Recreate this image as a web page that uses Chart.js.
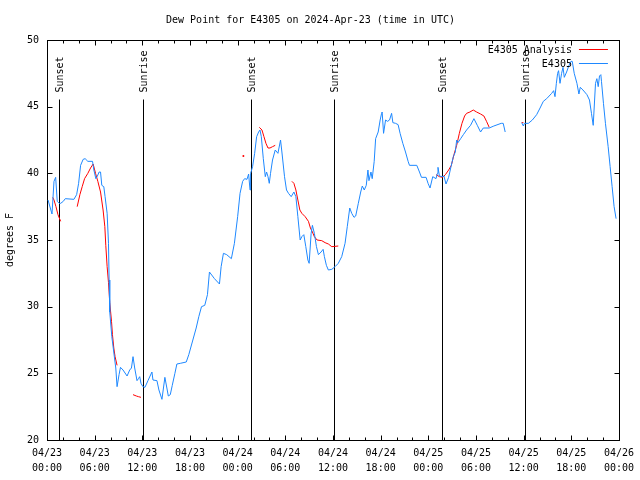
<!DOCTYPE html>
<html>
<head>
<meta charset="utf-8">
<script src="https://cdn.jsdelivr.net/npm/chart.js@4/dist/chart.umd.min.js"></script>
<style>
  html, body { margin: 0; padding: 0; background: #fff; }
</style>
</head>
<body>
<canvas id="dew" width="640" height="480"></canvas>
<script>
// hours since 04/23 00:00 UTC
const dewHours = [
  0.13, 0.63, 0.88, 1.09, 1.29, 1.54, 1.72, 2.05, 2.30, 3.39,
  3.73, 3.98, 4.23, 4.55, 4.80, 5.14, 5.73, 5.90, 6.15, 6.31,
  6.56, 6.74, 6.90, 7.15, 7.31, 7.57, 7.74, 7.82, 7.90, 8.16,
  8.53, 8.66, 8.82, 9.07, 9.25, 9.57, 10.08, 10.41, 10.63, 10.83,
  11.04, 11.33, 11.51, 11.67, 11.83, 12.08, 12.33, 12.71, 13.21, 13.34,
  13.84, 14.09, 14.47, 14.84, 15.09, 15.27, 15.52, 15.77, 16.10, 16.35,
  16.78, 17.53, 17.85, 18.36, 18.78, 19.11, 19.45, 19.86, 20.20, 20.45,
  21.08, 21.71, 21.92, 22.21, 22.62, 23.21, 23.59, 24.00, 24.30, 24.63,
  24.88, 25.18, 25.38, 25.56, 25.63, 25.88, 26.14, 26.39, 26.64, 26.81,
  26.98, 27.23, 27.48, 27.64, 27.82, 27.98, 28.14, 28.39, 28.73, 29.07,
  29.40, 29.57, 29.90, 30.15, 30.40, 30.74, 31.08, 31.33, 31.58, 31.87,
  32.08, 32.33, 32.58, 32.84, 33.00, 33.25, 33.41, 33.66, 33.92, 34.17,
  34.50, 34.76, 34.92, 35.17, 35.42, 35.85, 36.26, 36.67, 37.10, 37.52,
  37.80, 38.11, 38.36, 38.65, 38.86, 39.19, 39.49, 39.69, 39.94, 40.19,
  40.40, 40.53, 40.78, 40.94, 41.19, 41.37, 41.69, 41.94, 42.12, 42.19,
  42.37, 42.62, 42.87, 43.12, 43.38, 43.54, 43.88, 44.20, 44.45, 44.79,
  45.13, 45.46, 45.63, 46.55, 46.89, 47.14, 47.72, 47.97, 48.22, 48.56,
  48.97, 49.15, 49.22, 49.40, 49.72, 49.97, 50.23, 50.56, 50.82, 51.15,
  51.40, 51.57, 51.73, 52.07, 52.41, 52.82, 53.32, 53.74, 54.17, 54.58,
  54.92, 55.67, 56.25, 57.18, 57.43, 57.68, 58.70, 59.76, 59.97, 60.10,
  60.60, 61.10, 61.64, 62.07, 62.48, 62.90, 63.53, 63.78, 63.95, 64.12,
  64.28, 64.40, 64.58, 64.78, 64.96, 65.12, 65.41, 65.71, 65.96, 66.12,
  66.37, 66.71, 66.96, 67.13, 67.47, 67.97, 68.29, 68.54, 68.76, 68.88,
  69.05, 69.22, 69.39, 69.55, 69.72, 69.80, 70.05, 70.30, 70.64, 70.89,
  71.14, 71.39, 71.64
];
const dewValues = [
  38.0, 36.95, 39.4, 39.7, 37.9, 37.75, 37.75, 37.9, 38.1, 38.05,
  38.4, 39.25, 40.6, 41.05, 41.1, 40.9, 40.9, 40.25, 39.6, 39.75,
  40.1, 40.1, 39.1, 39.0, 38.25, 37.0, 34.75, 32.0, 29.6, 27.75,
  26.0, 25.4, 24.0, 24.9, 25.45, 25.25, 24.8, 25.25, 25.4, 26.25,
  25.4, 24.45, 24.6, 24.75, 24.25, 24.0, 23.95, 24.45, 25.1, 24.5,
  24.45, 23.75, 23.05, 24.7, 23.9, 23.3, 23.4, 24.1, 25.0, 25.7,
  25.75, 25.85, 26.4, 27.5, 28.4, 29.25, 30.0, 30.1, 30.9, 32.6,
  32.1, 31.7, 33.0, 34.0, 33.9, 33.6, 34.75, 36.75, 38.5, 39.4,
  39.6, 39.55, 39.95, 38.75, 40.0, 40.5, 41.5, 42.75, 43.1, 43.25,
  42.75, 41.1, 39.75, 40.1, 39.75, 39.25, 40.0, 41.0, 41.75, 41.5,
  42.5, 41.6, 39.75, 38.75, 38.5, 38.25, 38.6, 38.25, 36.75, 35.0,
  35.25, 35.4, 34.5, 33.5, 33.25, 35.5, 36.1, 35.5, 34.5, 33.9,
  34.1, 34.3, 33.75, 33.1, 32.75, 32.8, 33.0, 33.25, 33.75, 34.75,
  36.0, 37.4, 37.0, 36.7, 36.8, 37.75, 38.6, 39.05, 38.75, 39.1,
  40.25, 39.45, 40.1, 39.6, 40.9, 42.6, 43.1, 44.0, 44.5, 44.6,
  43.0, 44.0, 43.9, 44.0, 44.5, 43.8, 43.75, 43.65, 43.0, 42.25,
  41.6, 40.9, 40.6, 40.6, 40.1, 39.7, 39.7, 39.25, 38.9, 39.75,
  39.6, 40.0, 40.45, 39.8, 39.75, 39.8, 39.2, 39.7, 40.4, 41.25,
  41.6, 42.5, 42.3, 42.6, 42.9, 43.25, 43.6, 44.1, 43.6, 43.1,
  43.4, 43.4, 43.55, 43.75, 43.75, 43.1, null, 43.8, 43.55, 43.75,
  43.75, 44.0, 44.4, 44.9, 45.4, 45.6, 46.0, 46.2, 45.75, 46.75,
  47.5, 47.7, 46.75, 47.5, 47.95, 47.2, 47.6, 48.1, 48.4, 48.4,
  47.5, 46.75, 45.95, 46.45, 46.25, 45.9, 45.5, 44.5, 43.6, 44.9,
  46.75, 47.1, 46.5, 47.3, 47.4, 46.9, 45.25, 43.75, 42.0, 40.5,
  39.0, 37.5, 36.6
];

// analysis series, one line per segment (null breaks the line)
const anaHours = [
  0.72, 0.88, 1.13, 1.38, 1.72, 2.50,
  3.80, 4.14, 4.43, 4.73, 5.14, 5.48, 5.81, 6.11, 6.40, 6.74, 7.06, 7.28, 7.40, 7.57, 7.74, 7.90, 8.12, 8.24, 8.41, 8.57, 8.82, 9.50,
  10.83, 11.25, 11.51, 11.83, 18.00,
  24.72, 25.50,
  26.73, 27.06, 27.31, 27.56, 27.82, 28.07, 28.39, 28.73, 29.50,
  30.83, 31.08, 31.33, 31.58, 31.83, 32.08, 32.50, 32.91, 33.16, 33.41, 33.66, 34.00, 34.59, 35.01, 35.42, 35.85, 36.67, 42.00,
  48.97, 49.40, 49.81, 50.15, 50.56, 50.90, 51.23, 51.57, 51.91, 52.24, 52.57, 52.82, 53.24, 53.66, 54.08, 54.58, 55.00, 55.33, 55.67, 57.00,
  59.76, 59.97
];
const anaValues = [
  38.2, 38.0, 37.5, 36.9, 36.4, null,
  37.5, 38.4, 39.0, 39.6, 40.0, 40.4, 40.7, 40.0, 39.4, 38.6, 37.25, 36.0, 34.6, 33.0, 31.8, 30.3, 28.9, 27.9, 26.9, 26.25, 25.6, null,
  23.4, 23.3, 23.25, 23.2, null,
  41.3, null,
  43.45, 43.25, 42.75, 42.25, 41.9, 41.9, 42.0, 42.1, null,
  39.4, 39.25, 38.75, 38.0, 37.25, 37.0, 36.75, 36.4, 35.9, 35.6, 35.25, 35.0, 34.95, 34.8, 34.7, 34.5, 34.55, null,
  39.9, 39.75, 39.7, 39.9, 40.25, 40.6, 41.4, 42.1, 43.0, 43.75, 44.3, 44.5, 44.6, 44.75, 44.6, 44.45, 44.3, 43.9, 43.45, null,
  43.8, 43.8
];

const sunHours = [1.55, 12.08, 25.65, 36.13, 49.72, 60.12];
const sunLabels = ['Sunset', 'Sunrise', 'Sunset', 'Sunrise', 'Sunset', 'Sunrise'];

const tickDates = ['04/23', '04/23', '04/23', '04/23', '04/24', '04/24', '04/24', '04/24', '04/25', '04/25', '04/25', '04/25', '04/26'];
const tickTimes = ['00:00', '06:00', '12:00', '18:00', '00:00', '06:00', '12:00', '18:00', '00:00', '06:00', '12:00', '18:00', '00:00'];

const RED = '#ff0000';
const BLUE = '#1e88ff';
const FONT = "'DejaVu Sans Mono', 'Liberation Mono', monospace";

function toPoints(hours, values) {
    return hours.map((h, i) => ({ x: h, y: values[i] }));
}

// lone points (no neighbours) get a dot, everything else is a plain line
function lonePointRadius(c) {
    const d = c.dataset.data;
    const i = c.dataIndex;
    if (d[i].y === null) return 0;
    const prev = d[i - 1], next = d[i + 1];
    return (!prev || prev.y === null) && (!next || next.y === null) ? 1 : 0;
}

// gnuplot-like frame, inward ticks, sun lines and key
const gnuplotLook = {
    id: 'gnuplotLook',
    beforeDatasetsDraw(chart) {
        const { ctx, chartArea: a, scales: { x, y } } = chart;
        const L = Math.round(a.left) + 0.5, R = Math.round(a.right) + 0.5;
        const T = Math.round(a.top) + 0.5, B = Math.round(a.bottom) + 0.5;
        ctx.save();
        ctx.strokeStyle = '#000';
        ctx.lineWidth = 1;
        ctx.beginPath();
        for (let h = 2; h < 72; h += 2) {
            const px = Math.round(x.getPixelForValue(h)) + 0.5;
            const len = h % 6 === 0 ? 5 : 3;
            ctx.moveTo(px, B); ctx.lineTo(px, B - len);
            ctx.moveTo(px, T); ctx.lineTo(px, T + len);
        }
        y.ticks.forEach(t => {
            const py = Math.round(y.getPixelForValue(t.value)) + 0.5;
            ctx.moveTo(L, py); ctx.lineTo(L + 5, py);
            ctx.moveTo(R, py); ctx.lineTo(R - 5, py);
        });
        sunHours.forEach(h => {
            const px = Math.round(x.getPixelForValue(h)) + 0.5;
            ctx.moveTo(px, T + 59); ctx.lineTo(px, B);
        });
        ctx.stroke();
        ctx.strokeRect(L, T, R - L, B - T);

        ctx.fillStyle = '#000';
        ctx.font = '10px ' + FONT;
        ctx.textAlign = 'left';
        ctx.textBaseline = 'middle';
        sunHours.forEach((h, i) => {
            ctx.save();
            ctx.translate(Math.round(x.getPixelForValue(h)) + 1.5, T + 52);
            ctx.rotate(-Math.PI / 2);
            ctx.fillText(sunLabels[i], 0, 0);
            ctx.restore();
        });
        ctx.restore();
    },
    afterDraw(chart) {
        const { ctx, chartArea: a } = chart;
        ctx.save();
        ctx.font = '10px ' + FONT;
        ctx.textAlign = 'right';
        ctx.textBaseline = 'middle';
        ctx.lineWidth = 1;
        chart.data.datasets.forEach((ds, i) => {
            const ly = Math.round(a.top + 9 + i * 13.5) + 0.5;
            ctx.fillStyle = '#000';
            ctx.fillText(ds.label, a.right - 47, ly + 1);
            ctx.strokeStyle = ds.borderColor;
            ctx.beginPath();
            ctx.moveTo(a.right - 40, ly);
            ctx.lineTo(a.right - 11, ly);
            ctx.stroke();
        });
        ctx.restore();
    }
};

Chart.defaults.font.family = FONT;
Chart.defaults.font.size = 10;
Chart.defaults.color = '#000';

new Chart(document.getElementById('dew'), {
    type: 'line',
    data: {
        datasets: [{
            label: 'E4305 Analysis',
            data: toPoints(anaHours, anaValues),
            borderColor: RED,
            backgroundColor: RED,
            borderWidth: 1,
            pointRadius: lonePointRadius,
            pointBorderWidth: 0,
            spanGaps: false,
            order: 2
        },
        {
            label: 'E4305',
            data: toPoints(dewHours, dewValues),
            borderColor: BLUE,
            backgroundColor: BLUE,
            borderWidth: 1,
            pointRadius: 0,
            spanGaps: false,
            order: 1
        }]
    },
    options: {
        responsive: false,
        animation: false,
        events: [],
        layout: { padding: { left: 0, right: 19, top: 0, bottom: 0 } },
        plugins: {
            legend: { display: false },
            tooltip: { enabled: false },
            title: {
                display: true,
                text: 'Dew Point for E4305 on 2024-Apr-23 (time in UTC)',
                font: { size: 10, weight: 'normal', lineHeight: 1.2 },
                padding: { top: 14, bottom: 14 }
            }
        },
        scales: {
            x: {
                type: 'linear',
                min: 0,
                max: 72,
                grid: { display: false, drawTicks: false },
                border: { display: false },
                ticks: {
                    stepSize: 6,
                    autoSkip: false,
                    maxRotation: 0,
                    padding: 6,
                    font: { size: 10, lineHeight: 1.5 },
                    callback: (value, index) => [tickDates[index], tickTimes[index]]
                },
                afterFit: (scale) => { scale.height = 40; }
            },
            y: {
                min: 20,
                max: 50,
                grid: { display: false, drawTicks: false },
                border: { display: false },
                ticks: { stepSize: 5, padding: 8 },
                title: {
                    display: true,
                    text: 'degrees F',
                    padding: { top: 4, bottom: 0 }
                },
                afterFit: (scale) => { scale.width = 47; }
            }
        }
    },
    plugins: [gnuplotLook]
});
</script>
</body>
</html>
